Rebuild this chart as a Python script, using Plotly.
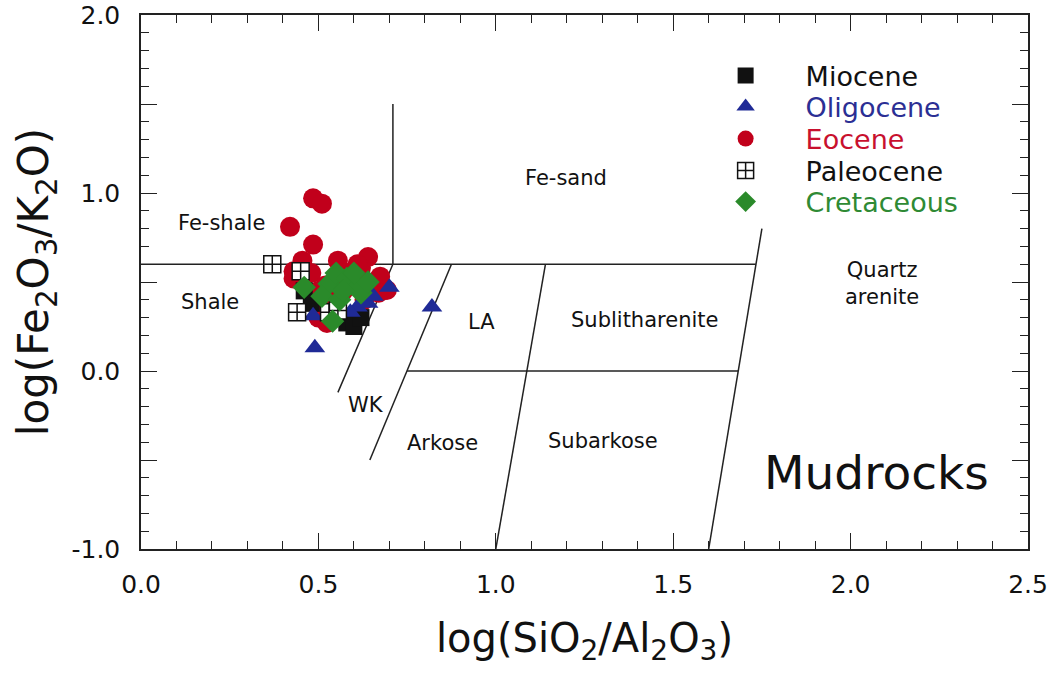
import plotly.graph_objects as go

# Sample compositions: x = log(SiO2/Al2O3), y = log(Fe2O3/K2O)
miocene_x = [0.46, 0.58, 0.60, 0.62, 0.48, 0.55]
miocene_y = [0.45, 0.27, 0.25, 0.30, 0.38, 0.33]

oligocene_x = [0.49, 0.82, 0.70, 0.485, 0.61, 0.64, 0.655, 0.59]
oligocene_y = [0.13, 0.36, 0.47, 0.31, 0.36, 0.38, 0.42, 0.33]

eocene_x = [0.485, 0.51, 0.42, 0.485, 0.455, 0.43, 0.43, 0.48, 0.555, 0.64,
            0.62, 0.674, 0.693, 0.67, 0.52, 0.54, 0.51, 0.50, 0.524, 0.58,
            0.60, 0.57, 0.53, 0.63, 0.50, 0.61]
eocene_y = [0.97, 0.94, 0.81, 0.71, 0.62, 0.52, 0.56, 0.55, 0.62, 0.64,
            0.58, 0.53, 0.455, 0.44, 0.48, 0.42, 0.40, 0.30, 0.27, 0.55,
            0.50, 0.45, 0.37, 0.40, 0.45, 0.60]

paleocene_x = [0.37, 0.45, 0.44, 0.53, 0.555]
paleocene_y = [0.60, 0.56, 0.33, 0.33, 0.34]

cretaceous_x = [0.46, 0.53, 0.55, 0.58, 0.61, 0.62, 0.51, 0.56, 0.54, 0.64, 0.60, 0.57]
cretaceous_y = [0.47, 0.49, 0.55, 0.52, 0.47, 0.44, 0.42, 0.40, 0.28, 0.50, 0.55, 0.45]

# Herron (1988) classification field boundaries
boundary_x = [0.71, 0.71, 0.555, None,
              0.0, 1.733, None,
              0.875, 0.645, None,
              0.75, 1.683, None,
              1.14, 1.0, None,
              1.75, 1.6]
boundary_y = [1.5, 0.6, -0.12, None,
              0.6, 0.6, None,
              0.6, -0.5, None,
              0.0, 0.0, None,
              0.6, -1.0, None,
              0.8, -1.0]

# Field names and their positions
field_names = ["Fe-shale", "Shale", "Fe-sand", "LA", "Sublitharenite",
               "Quartz<br>arenite", "WK", "Arkose", "Subarkose"]
field_x = [0.228, 0.194, 1.198, 0.961, 1.42, 2.088, 0.634, 0.851, 1.302]
field_y = [0.831, 0.388, 1.084, 0.275, 0.287, 0.489, -0.191, -0.404, -0.393]

FONT = "DejaVu Sans"

fig = go.Figure()

fig.add_trace(go.Scatter(
    x=boundary_x, y=boundary_y, mode="lines",
    line=dict(color="#222222", width=1.5),
    showlegend=False, hoverinfo="skip"))

series = [
    # name, x, y, symbol, fill, line colour, size, legend, text colour
    ("Eocene", eocene_x, eocene_y, "circle", "#c1001b", "#c1001b", 20, "legend3", "#c8102e"),
    ("Miocene", miocene_x, miocene_y, "square", "#111111", "#111111", 17, "legend", "#111111"),
    ("Oligocene", oligocene_x, oligocene_y, "triangle-up", "#1f2a96", "#1f2a96", 18, "legend2", "#2b2f94"),
    ("Paleocene", paleocene_x, paleocene_y, "square-cross", "white", "#111111", 17, "legend4", "#111111"),
    ("Cretaceous", cretaceous_x, cretaceous_y, "diamond", "#2a8a2a", "#2a8a2a", 18, "legend5", "#2f8a34"),
]

for name, xs, ys, sym, fill, lc, size, leg, _ in series:
    fig.add_trace(go.Scatter(
        x=xs, y=ys, mode="markers", name=name, legend=leg,
        marker=dict(symbol=sym, color=fill, size=size,
                    line=dict(color=lc, width=1.5 if fill == "white" else 0))))

for name, x, y in zip(field_names, field_x, field_y):
    fig.add_annotation(x=x, y=y, text=name, showarrow=False,
                       font=dict(family=FONT, size=21, color="#111111"))

fig.add_annotation(x=2.074, y=-0.573, text="Mudrocks", showarrow=False,
                   font=dict(family=FONT, size=47, color="#111111"))

# One legend per series so that each entry keeps its own text colour
legend_rows = {"legend": 76, "legend2": 107, "legend3": 139, "legend4": 171, "legend5": 202}
legend_colors = {s[7]: s[8] for s in series}
plot_top, plot_bottom = 15, 549
layout_legends = {}
for key, row in legend_rows.items():
    layout_legends[key] = dict(
        x=0.614, y=(plot_bottom - row) / (plot_bottom - plot_top),
        xanchor="left", yanchor="middle",
        bgcolor="rgba(0,0,0,0)", borderwidth=0,
        itemwidth=110,
        font=dict(family=FONT, size=27, color=legend_colors[key]))

axis_common = dict(
    showline=True, linecolor="#222222", linewidth=1.5, mirror="ticks",
    ticks="inside", ticklen=16, tickwidth=1.2, tickcolor="#222222",
    showgrid=False, zeroline=False, automargin=False,
    tickfont=dict(family=FONT, size=25, color="#111111"),
)

x_ticks = [0.0, 0.5, 1.0, 1.5, 2.0, 2.5]
y_ticks = [-1.0, -0.5, 0.0, 0.5, 1.0, 1.5, 2.0]
y_tick_text = ["-1.0", "", "0.0", "", "1.0", "", "2.0"]

fig.update_layout(
    width=1053, height=673,
    margin=dict(l=141, r=25, t=15, b=124, autoexpand=False),
    paper_bgcolor="white", plot_bgcolor="white",
    xaxis=dict(axis_common, range=[0, 2.5], tickvals=x_ticks,
               ticktext=[f"{v:.1f}" for v in x_ticks],
               ticklabelstandoff=12,
               minor=dict(dtick=0.1, ticks="inside", ticklen=8, tickcolor="#222222"),
               title=dict(text="log(SiO<sub>2</sub>/Al<sub>2</sub>O<sub>3</sub>)",
                          font=dict(family=FONT, size=40, color="#111111"), standoff=26)),
    yaxis=dict(axis_common, range=[-1, 2], tickvals=y_ticks, ticktext=y_tick_text,
               ticklabelstandoff=14,
               minor=dict(dtick=0.1, ticks="inside", ticklen=8, tickcolor="#222222"),
               title=dict(text="log(Fe<sub>2</sub>O<sub>3</sub>/K<sub>2</sub>O)",
                          font=dict(family=FONT, size=42, color="#111111"), standoff=10)),
    **layout_legends,
)

fig.write_html("out.html")
